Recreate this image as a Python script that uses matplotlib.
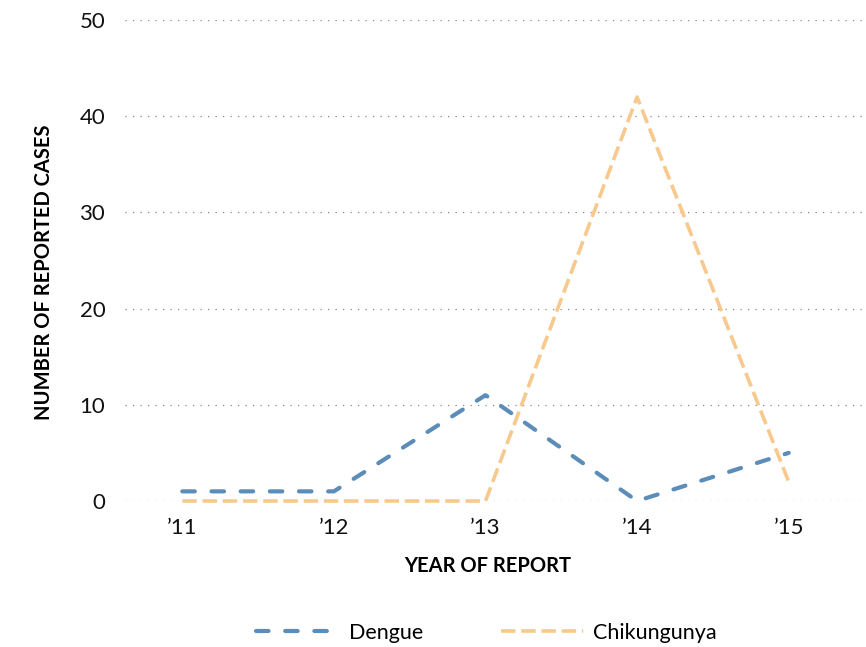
import numpy as np
import matplotlib.pyplot as plt

years = ["\u201911", "\u201912", "\u201913", "\u201914", "\u201915"]
dengue = [1, 1, 11, 0, 5]
chikungunya = [0, 0, 0, 42, 2]
y_ticks = [0, 10, 20, 30, 40, 50]

plt.rcParams['font.family'] = ['Lato', 'DejaVu Sans']

fig = plt.figure(figsize=(8.66, 6.47), dpi=100)
ax = fig.add_axes([0.144, 0.2257, 0.856, 0.7433])

x = np.arange(len(years))
ax.plot(x, dengue, color='#5b8db8', lw=3, linestyle=(0, (3, 4)),
        dash_capstyle='round', label='Dengue', clip_on=False, zorder=3)
ax.plot(x, chikungunya, color='#f7c98d', lw=2.6, linestyle=(0, (4, 1.6)),
        label='Chikungunya', clip_on=False, zorder=3)

ax.set_xlim(-0.38, 4.51)
ax.set_ylim(0, 50)
ax.set_yticks(y_ticks)
ax.set_xticks(x)
ax.set_xticklabels(years)
ax.tick_params(axis='both', length=0, labelsize=16, colors='#111111')
ax.tick_params(axis='y', pad=14)
ax.tick_params(axis='x', pad=12)
ax.grid(axis='y', color='#888888', linestyle=(0, (1, 5)), lw=0.9)
for s in ax.spines.values():
    s.set_visible(False)

ax.set_xlabel('YEAR OF REPORT', fontsize=14.5, fontweight='bold')
ax.set_ylabel('NUMBER OF REPORTED CASES', fontsize=14.5, fontweight='bold')
ax.xaxis.set_label_coords(0.49, -0.115)
ax.yaxis.set_label_coords(-0.096, 0.475)

leg = fig.legend(loc='center', bbox_to_anchor=(0.562, 0.022), ncol=2, frameon=False,
                 fontsize=15.5, handlelength=3.8, columnspacing=3.6, handletextpad=0.5)

fig.savefig('out.png', dpi=100)
